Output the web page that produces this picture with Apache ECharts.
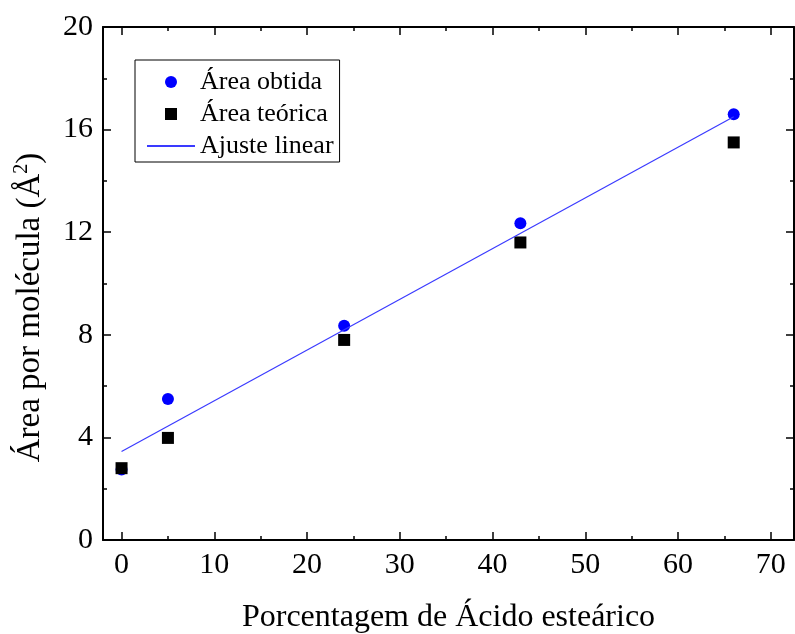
<!DOCTYPE html>
<html>
<head>
<meta charset="utf-8">
<script src="https://cdn.jsdelivr.net/npm/echarts@6/dist/echarts.min.js"></script>
<style>
  html, body { margin: 0; padding: 0; background: #fff; }
  #chart { width: 795px; height: 634px; }
</style>
</head>
<body>
<div id="chart"></div>
<script>
// valores
var percent = [0, 5, 24, 43, 66];
var areaObtida = [2.75, 5.5, 8.35, 12.35, 16.6];
var areaTeorica = [2.8, 3.98, 7.8, 11.6, 15.5];
var ajusteX = [0, 66];
var ajusteY = [3.45, 16.5];

// marcas do eixo x
var xMajor = [0, 10, 20, 30, 40, 50, 60, 70];
var xMinor = [5, 15, 25, 35, 45, 55, 65];

var fonte = '"Liberation Serif", "Times New Roman", serif';
var gridBox = { left: 103, right: 1, top: 27, bottom: 94, outerBoundsMode: 'none', containLabel: false };

function pares(xs, ys) {
    var out = [];
    for (var i = 0; i < xs.length; i++) {
        out.push([xs[i], ys[i]]);
    }
    return out;
}

var linhaEixo = { color: '#000', width: 2 };
var linhaTick = { color: '#000', width: 1.5 };

function eixoX(pos, labels) {
    return {
        type: 'value', gridIndex: 0, position: pos,
        min: -2, max: 72.5,
        axisLine: { show: true, onZero: false, lineStyle: linhaEixo },
        axisTick: { show: true, inside: true, length: 8, customValues: xMajor, lineStyle: linhaTick },
        minorTick: { show: false },
        splitLine: { show: false },
        axisLabel: {
            show: labels, customValues: xMajor,
            color: '#000', fontFamily: fonte, fontSize: 30, margin: 10
        }
    };
}

// segundo grid só para as marcas menores do eixo x
function eixoXMenor(pos) {
    return {
        type: 'value', gridIndex: 1, position: pos,
        min: -2, max: 72.5,
        axisLine: { show: false },
        axisTick: { show: true, inside: true, length: 4, customValues: xMinor, lineStyle: linhaTick },
        splitLine: { show: false },
        axisLabel: { show: false }
    };
}

function eixoY(pos, labels) {
    return {
        type: 'value', gridIndex: 0, position: pos,
        min: 0, max: 20, interval: 4,
        axisLine: { show: true, onZero: false, lineStyle: linhaEixo },
        axisTick: { show: true, inside: true, length: 8, lineStyle: linhaTick },
        minorTick: { show: true, splitNumber: 2, length: 4, lineStyle: linhaTick },
        splitLine: { show: false },
        axisLabel: { show: labels, color: '#000', fontFamily: fonte, fontSize: 30, margin: 10 }
    };
}

var myChart = echarts.init(document.getElementById('chart'));

var xBaixo = eixoX('bottom', true);
xBaixo.name = 'Porcentagem de Ácido esteárico';
xBaixo.nameLocation = 'middle';
xBaixo.nameGap = 62;
xBaixo.nameTextStyle = { color: '#000', fontFamily: fonte, fontSize: 32 };

var yEsq = eixoY('left', true);
yEsq.name = '{n|Área por molécula (Å}{s|2}{n|)}';
yEsq.nameLocation = 'middle';
yEsq.nameGap = 55;
yEsq.nameTextStyle = {
    color: '#000',
    padding: [0, 48, 0, 0],
    rich: {
        n: { fontFamily: fonte, fontSize: 33, color: '#000', lineHeight: 36 },
        s: { fontFamily: fonte, fontSize: 20, color: '#000', verticalAlign: 'top', lineHeight: 36 }
    }
};

var option = {
    animation: false,
    backgroundColor: '#fff',
    grid: [gridBox, gridBox],
    legend: {
        left: 135,
        top: 60,
        orient: 'vertical',
        borderColor: '#000',
        borderWidth: 1,
        padding: [9, 6, 3, 11],
        itemGap: 6,
        itemWidth: 48,
        itemHeight: 12,
        textStyle: { color: '#000', fontFamily: fonte, fontSize: 26, lineHeight: 26 },
        data: [
            { name: 'Área obtida', icon: 'circle' },
            { name: 'Área teórica', icon: 'path://M0,0L10,0L10,10L0,10Z' },
            { name: 'Ajuste linear', itemStyle: { opacity: 0 } }
        ]
    },
    xAxis: [xBaixo, eixoX('top', false), eixoXMenor('bottom'), eixoXMenor('top')],
    yAxis: [yEsq, eixoY('right', false),
        { type: 'value', gridIndex: 1, min: 0, max: 20, show: false }],
    series: [
        {
            name: 'Área obtida',
            type: 'scatter',
            symbol: 'circle',
            symbolSize: 12,
            itemStyle: { color: '#0000ff', opacity: 1 },
            data: pares(percent, areaObtida)
        },
        {
            name: 'Área teórica',
            type: 'scatter',
            symbol: 'rect',
            symbolSize: 12,
            itemStyle: { color: '#000', opacity: 1 },
            data: pares(percent, areaTeorica)
        },
        {
            name: 'Ajuste linear',
            type: 'line',
            showSymbol: false,
            symbol: 'none',
            lineStyle: { color: '#3a3aff', width: 1.2 },
            itemStyle: { color: '#3a3aff' },
            data: pares(ajusteX, ajusteY)
        }
    ]
};

myChart.setOption(option);
</script>
</body>
</html>
